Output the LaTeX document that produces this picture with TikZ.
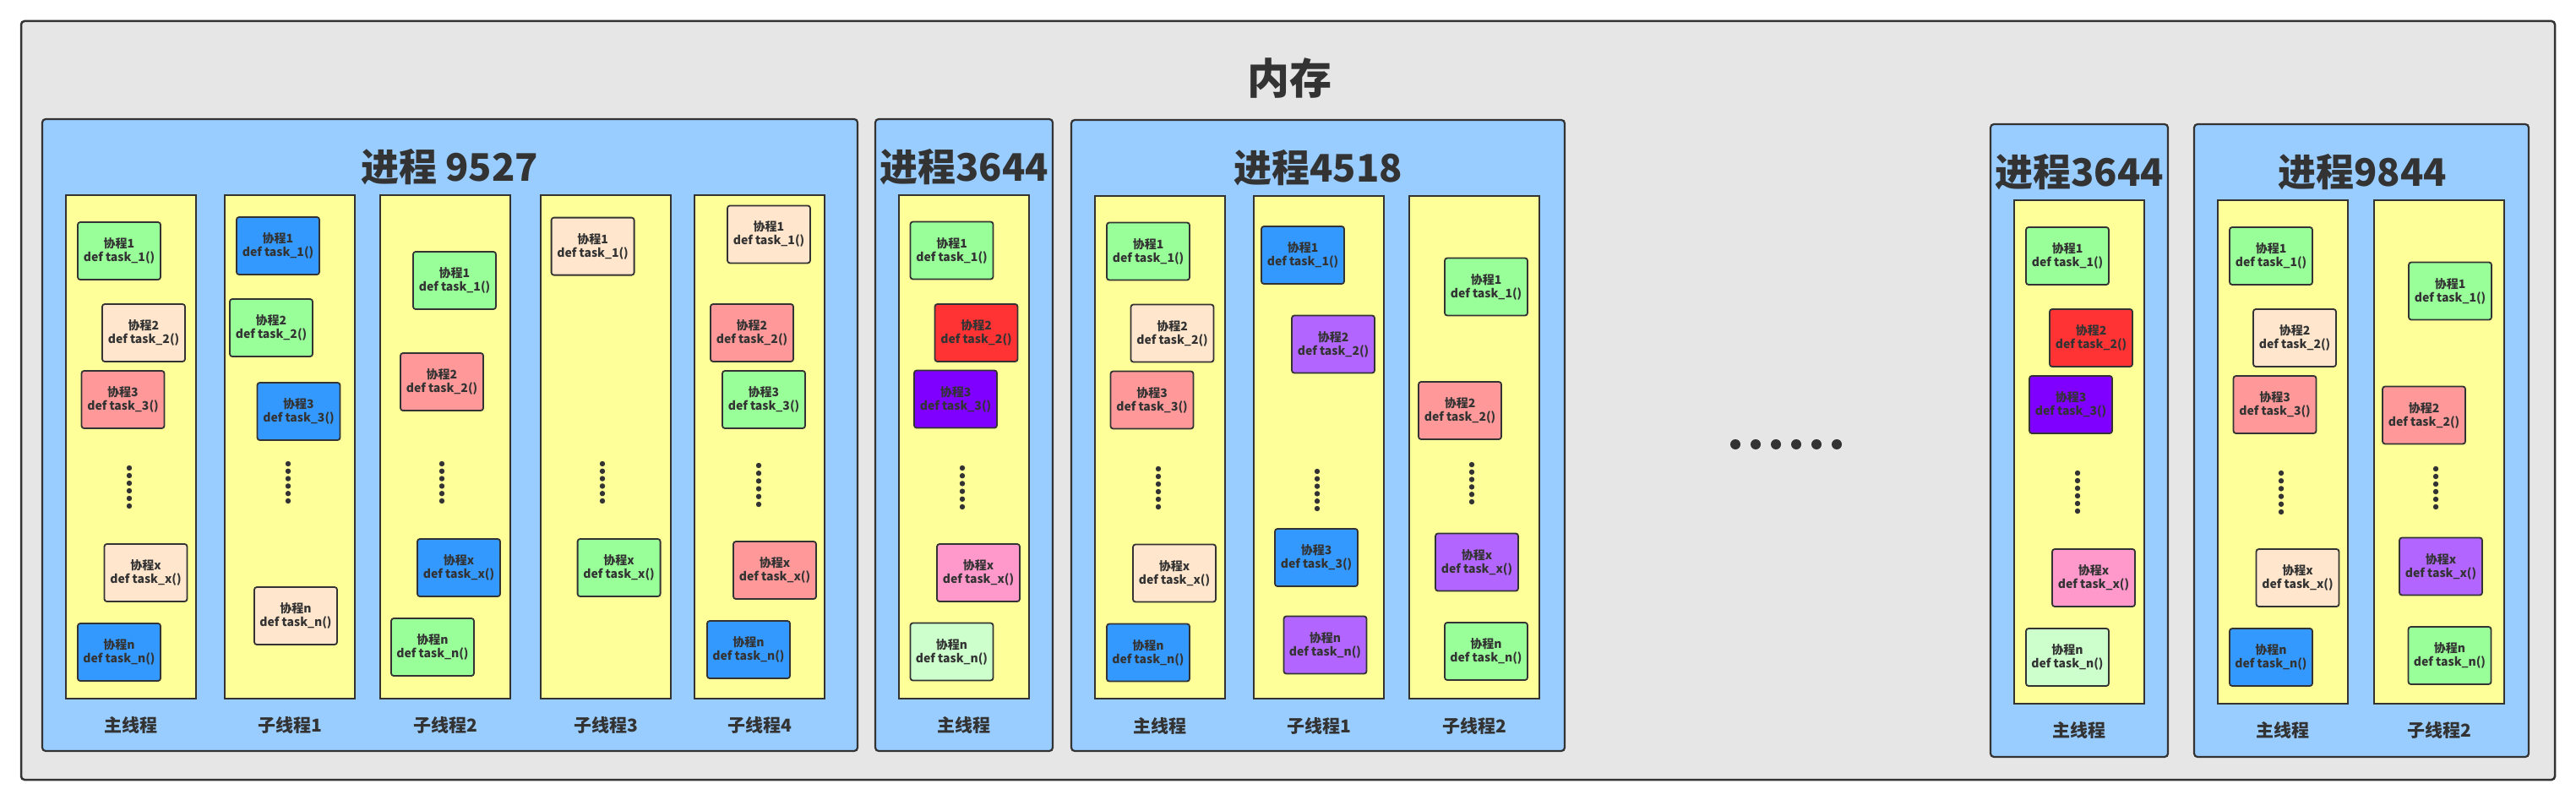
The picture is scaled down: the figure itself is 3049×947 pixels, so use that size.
\documentclass[tikz,border=0pt]{standalone}
\usepackage{fontspec}
\setmainfont{Noto Sans CJK SC}
\usetikzlibrary{fit}
\definecolor{linec}{HTML}{333333}
\definecolor{grayf}{HTML}{E6E6E6}
\definecolor{bluebg}{HTML}{99CCFF}
\definecolor{ylw}{HTML}{FFFF99}
\definecolor{cgreen}{HTML}{99FF99}
\definecolor{cbisque}{HTML}{FFE6CC}
\definecolor{csalmon}{HTML}{FF9999}
\definecolor{cblue}{HTML}{3399FF}
\definecolor{cred}{HTML}{FF3333}
\definecolor{cpurple}{HTML}{7F00FF}
\definecolor{cviolet}{HTML}{B266FF}
\definecolor{cpink}{HTML}{FF99CC}
\definecolor{clight}{HTML}{CCFFCC}
\tikzset{
  outerbox/.style={draw=linec, line width=2.5pt, fill=grayf, rounded corners=4pt, inner sep=0pt},
  procbox/.style={draw=linec, line width=2.2pt, fill=bluebg, rounded corners=4pt, inner sep=0pt},
  colbox/.style={draw=linec, line width=2pt, fill=ylw, inner sep=0pt},
  cobox/.style={draw=linec, line width=1.8pt, rounded corners=3pt, minimum width=98pt, minimum height=68pt, inner sep=0pt, align=center, text=linec, font=\bfseries\fontsize{14}{16}\selectfont},
  titletext/.style={text=linec, inner sep=0pt, font=\bfseries\fontsize{45}{50}\selectfont},
  bigtitle/.style={text=linec, inner sep=0pt, font=\bfseries\fontsize{50}{54}\selectfont},
  labtext/.style={text=linec, inner sep=0pt, font=\bfseries\fontsize{21}{24}\selectfont},
}
\newcommand\co[5]{\node[cobox, fill=#4] (#1) at (#2,#3) {协程#5\\def task\_#5()};}
\newcommand\dotcol[3]{\foreach \i in {0,...,5} \fill[linec] ({#1},{#2+(#3-#2)*\i/5}) circle (3.2pt);}
\newcommand\colnode[4]{\node[colbox, fit={(#2,#3) (#2+154,#4)}] (#1) {};}
\begin{document}
\begin{tikzpicture}[x=1pt,y=-1pt]
\useasboundingbox (0,0) rectangle (3049,947);
\fill[white] (0,0) rectangle (3049,947);
% memory
\node[outerbox, fit={(25,25) (3024,923)}] (mem) {};
\node[bigtitle] (memt) at (1526,93) {内存};
% processes
\node[procbox, fit={(50,141) (1015,889)}] (p1) {};
\node[procbox, fit={(1036,141) (1246,889)}] (p2) {};
\node[procbox, fit={(1268,142) (1852,889)}] (p3) {};
\node[procbox, fit={(2356,147) (2566,896)}] (p4) {};
\node[procbox, fit={(2597,147) (2993,896)}] (p5) {};
\node[titletext] (p1t) at (532,198) {进程 9527};
\node[titletext] (p2t) at (1141,198) {进程3644};
\node[titletext] (p3t) at (1560,199) {进程4518};
\node[titletext] (p4t) at (2461,204) {进程3644};
\node[titletext] (p5t) at (2796,204) {进程9844};
% columns
\colnode{p1a}{78}{231}{827}
\colnode{p1b}{266}{231}{827}
\colnode{p1c}{450}{231}{827}
\colnode{p1d}{640}{231}{827}
\colnode{p1e}{822}{231}{827}
\colnode{p2a}{1064}{231}{827}
\colnode{p3a}{1296}{232}{827}
\colnode{p3b}{1484}{232}{827}
\colnode{p3c}{1668}{232}{827}
\colnode{p4a}{2384}{237}{833}
\colnode{p5a}{2625}{237}{833}
\colnode{p5b}{2810}{237}{833}
% labels
\node[labtext] (p1al) at (155,858) {主线程};
\node[labtext] (p1bl) at (343,858) {子线程1};
\node[labtext] (p1cl) at (527,858) {子线程2};
\node[labtext] (p1dl) at (717,858) {子线程3};
\node[labtext] (p1el) at (899,858) {子线程4};
\node[labtext] (p2al) at (1141,858) {主线程};
\node[labtext] (p3al) at (1373,859) {主线程};
\node[labtext] (p3bl) at (1561,859) {子线程1};
\node[labtext] (p3cl) at (1745,859) {子线程2};
\node[labtext] (p4al) at (2461,864) {主线程};
\node[labtext] (p5al) at (2702,864) {主线程};
\node[labtext] (p5bl) at (2887,864) {子线程2};
% process 9527
\co{p1a1}{141}{297}{cgreen}{1}
\co{p1a2}{170}{394}{cbisque}{2}
\co{p1a3}{145.5}{473}{csalmon}{3}
\dotcol{153}{554}{599}
\co{p1ax}{172.5}{678}{cbisque}{x}
\co{p1an}{141}{772}{cblue}{n}
\co{p1b1}{329}{291}{cblue}{1}
\co{p1b2}{321}{388}{cgreen}{2}
\co{p1b3}{353.5}{487}{cblue}{3}
\dotcol{341}{549}{593}
\co{p1bn}{350}{729}{cbisque}{n}
\co{p1c1}{538}{332}{cgreen}{1}
\co{p1c2}{523}{452}{csalmon}{2}
\dotcol{523}{549}{593}
\co{p1cx}{543}{672}{cblue}{x}
\co{p1cn}{512}{766}{cgreen}{n}
\co{p1d1}{701.6}{291.6}{cbisque}{1}
\dotcol{713}{549}{593}
\co{p1dx}{732.6}{672}{cgreen}{x}
\co{p1e1}{910}{277.4}{cbisque}{1}
\co{p1e2}{890}{394}{csalmon}{2}
\co{p1e3}{904}{473}{cgreen}{3}
\dotcol{898}{551}{597}
\co{p1ex}{917}{675}{csalmon}{x}
\co{p1en}{886}{769}{cblue}{n}
% process 3644
\co{p2a1}{1126.5}{296.5}{cgreen}{1}
\co{p2a2}{1155.5}{394}{cred}{2}
\co{p2a3}{1131}{472.5}{cpurple}{3}
\dotcol{1139}{554}{600}
\co{p2ax}{1158}{678}{cpink}{x}
\co{p2an}{1126.5}{771.5}{clight}{n}
% process 4518
\co{p3a1}{1359}{297.5}{cgreen}{1}
\co{p3a2}{1387.5}{394.5}{cbisque}{2}
\co{p3a3}{1363.5}{473.5}{csalmon}{3}
\dotcol{1371}{555}{600}
\co{p3ax}{1390}{678.5}{cbisque}{x}
\co{p3an}{1359}{772.5}{cblue}{n}
\co{p3b1}{1542}{302}{cblue}{1}
\co{p3b2}{1578}{407.5}{cviolet}{2}
\dotcol{1559}{558}{602}
\co{p3b3}{1558}{660}{cblue}{3}
\co{p3bn}{1568.5}{763.5}{cviolet}{n}
\co{p3c1}{1759}{339.5}{cgreen}{1}
\co{p3c2}{1728}{486}{csalmon}{2}
\dotcol{1742}{550}{594}
\co{p3cx}{1748}{665.5}{cviolet}{x}
\co{p3cn}{1759}{771}{cgreen}{n}
% ellipsis
\foreach \i in {0,...,5} \fill[linec] (2054+24*\i,526) circle (6pt);
% process 3644 (second)
\co{p4a1}{2447}{303}{cgreen}{1}
\co{p4a2}{2475}{400}{cred}{2}
\co{p4a3}{2451}{479}{cpurple}{3}
\dotcol{2459}{560}{605}
\co{p4ax}{2478}{684}{cpink}{x}
\co{p4an}{2447}{778}{clight}{n}
% process 9844
\co{p5a1}{2688}{303}{cgreen}{1}
\co{p5a2}{2716}{400}{cbisque}{2}
\co{p5a3}{2692.5}{479}{csalmon}{3}
\dotcol{2700}{560}{606}
\co{p5ax}{2719.5}{684}{cbisque}{x}
\co{p5an}{2688}{778}{cblue}{n}
\co{p5b1}{2900}{344.5}{cgreen}{1}
\co{p5b2}{2869}{491.5}{csalmon}{2}
\dotcol{2883}{555}{600}
\co{p5bx}{2889}{670.5}{cviolet}{x}
\co{p5bn}{2899.5}{776}{cgreen}{n}
\end{tikzpicture}
\end{document}
